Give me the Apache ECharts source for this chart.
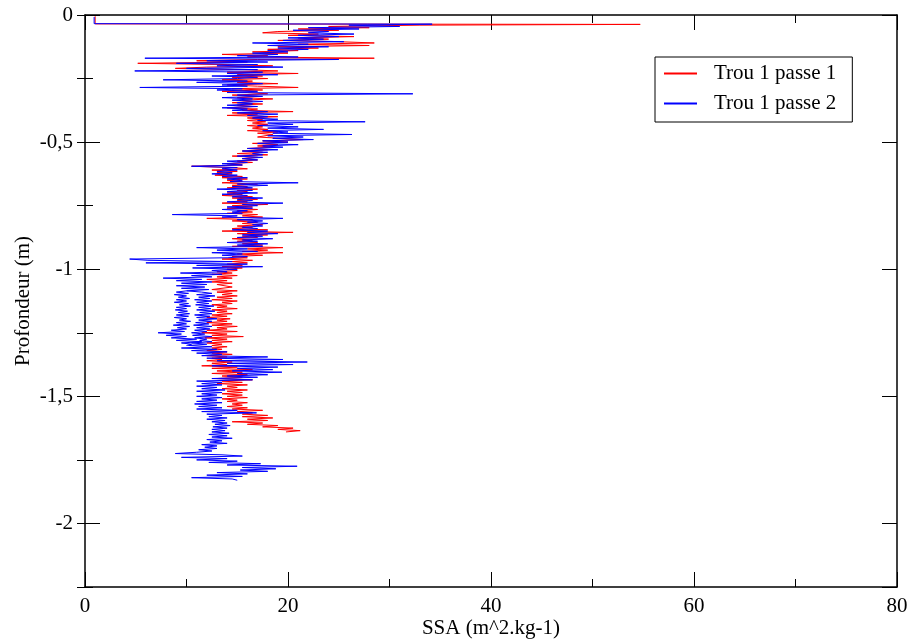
<!DOCTYPE html>
<html><head><meta charset="utf-8">
<script src="https://cdn.jsdelivr.net/npm/echarts@6/dist/echarts.min.js"></script>
<style>html,body{margin:0;padding:0;background:#fff}#c{width:916px;height:642px}</style>
</head><body><div id="c"></div>
<script>
const seriesNames = ['Trou 1 passe 1', 'Trou 1 passe 2'];
const xName = 'SSA (m^2.kg-1)';
const yName = 'Profondeur (m)';

// [SSA, profondeur]
const passe1 = [
[1,-0.005],[1,-0.035],[54.7,-0.037],[33,-0.040],[24,-0.045],[28,-0.050],[21,-0.055],[25,-0.060],[19,-0.065],[17.5,-0.070],
[23,-0.075],[20,-0.080],[26.5,-0.085],[21,-0.090],[24,-0.095],[19,-0.100],[25,-0.105],[28.5,-0.110],[21,-0.115],[28,-0.120],
[19,-0.125],[23,-0.130],[18,-0.135],[21,-0.140],[16.5,-0.145],[20,-0.150],[13.5,-0.155],[18,-0.160],[16,-0.165],[28.5,-0.170],
[17,-0.175],[11,-0.180],[16,-0.185],[5.2,-0.190],[14,-0.195],[18.5,-0.200],[12,-0.205],[8.9,-0.210],[15.5,-0.215],[19,-0.220],
[14,-0.225],[21,-0.230],[15,-0.235],[17.5,-0.240],[14.5,-0.245],[18,-0.250],[13.5,-0.255],[16.5,-0.260],[15,-0.265],[19,-0.270],
[14,-0.275],[17,-0.280],[21,-0.285],[14.5,-0.290],[17.5,-0.295],[13.5,-0.300],[16,-0.305],[18,-0.310],[14.5,-0.315],[17,-0.320],
[15,-0.325],[18.5,-0.330],[15.5,-0.335],[16.5,-0.340],[14.5,-0.345],[17.5,-0.350],[15,-0.355],[16.5,-0.360],[14,-0.365],[17,-0.370],
[15.5,-0.375],[20.5,-0.380],[14.5,-0.385],[17,-0.390],[14,-0.395],[19,-0.400],[16,-0.405],[17.5,-0.410],[16,-0.415],[17.8,-0.420],
[16.5,-0.425],[18,-0.430],[16,-0.435],[17.5,-0.440],[16.5,-0.445],[18,-0.450],[16,-0.455],[19,-0.460],[17,-0.465],[18.5,-0.470],
[17,-0.480],[21.5,-0.490],[17.5,-0.495],[20,-0.500],[16.5,-0.505],[19,-0.510],[17,-0.515],[18.5,-0.520],[16,-0.525],[18,-0.530],
[15.5,-0.535],[17.5,-0.540],[15,-0.545],[18,-0.550],[14.5,-0.555],[17,-0.560],[15.5,-0.565],[17,-0.570],[15,-0.575],[16.5,-0.580],
[14,-0.585],[15.5,-0.590],[10.5,-0.595],[14.5,-0.600],[16,-0.605],[12.5,-0.610],[15,-0.615],[13,-0.620],[14.5,-0.625],[12.8,-0.630],
[15.5,-0.635],[13.5,-0.640],[16,-0.645],[14,-0.650],[15.5,-0.655],[13.5,-0.660],[17,-0.665],[14.5,-0.670],[16,-0.675],[14,-0.680],
[17,-0.685],[15,-0.690],[16,-0.695],[14,-0.700],[15.5,-0.705],[13.5,-0.710],[16.5,-0.715],[14.5,-0.720],[17,-0.725],[15,-0.730],
[16,-0.735],[13.5,-0.740],[18,-0.745],[14.5,-0.750],[16.5,-0.755],[14,-0.760],[17,-0.765],[15,-0.770],[16.5,-0.775],[14,-0.780],
[17,-0.785],[15.5,-0.790],[17.5,-0.795],[12,-0.800],[16.5,-0.805],[14.5,-0.810],[17,-0.815],[15.5,-0.820],[17.5,-0.825],[15,-0.830],
[16.5,-0.835],[14.5,-0.840],[18,-0.845],[13.5,-0.850],[20.5,-0.855],[15,-0.860],[18,-0.865],[15.5,-0.870],[17,-0.875],[14.5,-0.880],
[16.5,-0.885],[15,-0.890],[17,-0.895],[15.5,-0.900],[17.5,-0.905],[14.5,-0.910],[19.5,-0.915],[16,-0.920],[18,-0.925],[15.5,-0.930],
[19.5,-0.935],[15,-0.940],[17.5,-0.945],[14.5,-0.950],[16,-0.955],[13.5,-0.960],[16.5,-0.965],[14.5,-0.970],[16,-0.975],[14,-0.980],
[15.5,-0.985],[13.5,-0.990],[15.5,-0.995],[14,-1.000],[15,-1.005],[13,-1.010],[14.5,-1.015],[12.5,-1.020],[15,-1.025],[13,-1.030],
[14.5,-1.035],[12,-1.040],[14,-1.045],[12.5,-1.050],[14.5,-1.055],[13,-1.060],[14.5,-1.070],[12.5,-1.080],[15,-1.085],[13,-1.090],
[14.5,-1.095],[13.5,-1.100],[15,-1.105],[13,-1.110],[14.5,-1.115],[12.5,-1.120],[15,-1.125],[13.5,-1.130],[14.5,-1.135],[12.5,-1.140],
[14,-1.145],[13,-1.150],[15,-1.155],[12.5,-1.160],[14,-1.165],[13,-1.170],[14.5,-1.175],[12.5,-1.180],[14,-1.185],[12,-1.190],
[14.3,-1.195],[13,-1.200],[14,-1.205],[12,-1.210],[14.5,-1.215],[12.5,-1.220],[15,-1.225],[13,-1.230],[14,-1.235],[12,-1.240],
[15,-1.245],[11.5,-1.250],[14,-1.255],[12.5,-1.260],[15.6,-1.265],[11.8,-1.270],[14,-1.275],[12.5,-1.280],[14.5,-1.285],[12,-1.290],
[13.5,-1.295],[12.5,-1.300],[14,-1.305],[12.5,-1.310],[13.5,-1.315],[12,-1.320],[14,-1.325],[12.5,-1.330],[14.5,-1.335],[12,-1.340],
[14,-1.345],[12.5,-1.350],[13.5,-1.355],[12,-1.360],[14.5,-1.365],[12.5,-1.370],[14,-1.375],[11.5,-1.380],[15,-1.385],[12.5,-1.390],
[16.5,-1.395],[13,-1.400],[15.5,-1.405],[12.5,-1.410],[16,-1.415],[13.5,-1.420],[15.5,-1.425],[13,-1.430],[16.5,-1.435],[13.5,-1.440],
[15.5,-1.445],[13,-1.450],[16,-1.455],[14,-1.460],[15,-1.465],[13.5,-1.470],[16,-1.475],[14,-1.480],[15.5,-1.485],[13.5,-1.490],
[15.5,-1.495],[14,-1.500],[16,-1.505],[13.5,-1.510],[15,-1.515],[14,-1.520],[16,-1.525],[14.5,-1.530],[15.5,-1.535],[14,-1.540],
[16,-1.545],[14.5,-1.550],[17.5,-1.555],[15,-1.560],[16.5,-1.565],[15.5,-1.570],[18,-1.575],[15.5,-1.580],[18.5,-1.585],[16,-1.590],
[18,-1.595],[14.5,-1.600],[17.5,-1.605],[16,-1.610],[19,-1.615],[17.5,-1.620],[20.5,-1.625],[19,-1.630],[21.2,-1.635],[19.8,-1.640]
];

const passe2 = [
[0.9,-0.008],[0.9,-0.034],[34.2,-0.036],[26,-0.040],[31,-0.045],[22,-0.050],[27,-0.055],[20.5,-0.060],[24,-0.065],[22,-0.070],
[26.5,-0.075],[21,-0.080],[25,-0.085],[20,-0.090],[23.5,-0.095],[19.5,-0.100],[25.5,-0.105],[16.5,-0.110],[22,-0.115],[18,-0.120],
[24,-0.125],[19,-0.130],[22,-0.135],[18,-0.140],[20,-0.145],[16.5,-0.150],[19,-0.155],[15,-0.160],[21,-0.165],[5.9,-0.170],
[25,-0.175],[12,-0.180],[18,-0.185],[9,-0.190],[17,-0.195],[13,-0.200],[19.5,-0.205],[10,-0.210],[17,-0.215],[4.9,-0.220],
[17.5,-0.225],[14,-0.230],[19,-0.235],[12.5,-0.240],[17,-0.245],[15,-0.250],[7.7,-0.255],[16,-0.260],[11,-0.265],[17.5,-0.270],
[13.5,-0.275],[16,-0.280],[5.4,-0.285],[15.5,-0.290],[13,-0.295],[17,-0.300],[14,-0.305],[32.3,-0.310],[15,-0.315],[17.5,-0.320],
[13.5,-0.325],[16.5,-0.330],[14.5,-0.335],[17.5,-0.340],[15,-0.345],[16.5,-0.350],[14,-0.355],[17,-0.360],[13.5,-0.365],[16,-0.370],
[14.5,-0.375],[18,-0.380],[15,-0.385],[19,-0.390],[16,-0.395],[18,-0.400],[16.5,-0.405],[19,-0.410],[17,-0.415],[27.6,-0.420],
[18,-0.425],[20.5,-0.430],[17,-0.435],[21,-0.440],[18,-0.445],[23.5,-0.450],[17.5,-0.455],[20,-0.460],[18.5,-0.465],[26.3,-0.470],
[18,-0.475],[21.5,-0.480],[18.5,-0.485],[22.5,-0.490],[17.5,-0.495],[20,-0.500],[17,-0.505],[21,-0.510],[17.5,-0.515],[19.5,-0.520],
[16,-0.525],[19,-0.530],[15.5,-0.535],[18,-0.540],[16.5,-0.545],[17.5,-0.550],[15,-0.555],[17.5,-0.560],[15.5,-0.565],[17,-0.570],
[14,-0.575],[16,-0.580],[13.5,-0.585],[15.5,-0.590],[10.5,-0.595],[15,-0.600],[13.5,-0.605],[15,-0.610],[13,-0.615],[14.5,-0.620],
[12.5,-0.625],[15,-0.630],[13.5,-0.635],[16,-0.640],[14,-0.645],[15.5,-0.650],[14.3,-0.655],[21,-0.660],[15,-0.665],[18,-0.670],
[14.5,-0.675],[16.5,-0.680],[13,-0.685],[16.5,-0.690],[14,-0.695],[17,-0.700],[13.5,-0.705],[16,-0.710],[14.5,-0.715],[17.5,-0.720],
[15,-0.725],[16.5,-0.730],[14,-0.735],[19.5,-0.740],[15.5,-0.745],[17,-0.750],[14,-0.755],[16.5,-0.760],[13.5,-0.765],[16,-0.770],
[14.5,-0.775],[15.5,-0.780],[8.6,-0.785],[15,-0.790],[13.5,-0.795],[19.5,-0.800],[15,-0.805],[17.5,-0.810],[16,-0.815],[18,-0.820],
[16.5,-0.825],[17.5,-0.830],[15.5,-0.835],[17,-0.840],[14.5,-0.845],[18,-0.850],[16,-0.855],[19,-0.860],[15.5,-0.865],[17.5,-0.870],
[15,-0.875],[18.5,-0.880],[15.5,-0.885],[17,-0.890],[14,-0.895],[18,-0.900],[15,-0.905],[17.5,-0.910],[11,-0.915],[16,-0.920],
[13,-0.925],[17,-0.930],[12.5,-0.935],[15.5,-0.940],[13.5,-0.945],[16,-0.950],[14,-0.955],[4.4,-0.960],[6.2,-0.965],[14.5,-0.970],
[6,-0.975],[16,-0.980],[11,-0.985],[17.5,-0.990],[10.6,-0.995],[15,-1.000],[12.5,-1.005],[14,-1.010],[9.4,-1.015],[13.5,-1.020],
[10.5,-1.025],[12.5,-1.030],[7.7,-1.035],[11.5,-1.040],[9,-1.045],[12.5,-1.050],[9.5,-1.055],[12,-1.060],[9,-1.065],[11.8,-1.070],
[9.5,-1.075],[12.2,-1.080],[10,-1.085],[11.5,-1.090],[12.5,-1.095],[11,-1.100],[12.8,-1.105],[11.2,-1.110],[12.3,-1.115],[10.8,-1.120],
[12.5,-1.125],[11,-1.130],[12.2,-1.135],[10.9,-1.140],[12.7,-1.145],[11.2,-1.150],[12.4,-1.155],[11,-1.160],[12.8,-1.165],[11.3,-1.170],
[12.5,-1.175],[10.8,-1.180],[12.3,-1.185],[11,-1.190],[13,-1.195],[11.2,-1.200],[12.5,-1.205],[10.9,-1.210],[12.2,-1.215],[10.7,-1.220],
[12.5,-1.225],[11,-1.230],[12.3,-1.235],[10.8,-1.240],[12,-1.245],[10.5,-1.250],[11.8,-1.255],[10.6,-1.260],[12.5,-1.265],[10.8,-1.270],
[12,-1.275],[11.3,-1.280],[12.5,-1.285],[10.5,-1.290],[12,-1.295],[10.2,-1.300],[12.5,-1.305],[9.5,-1.310],[13,-1.315],[10.5,-1.320],
[14,-1.325],[11,-1.330],[13.5,-1.335],[11.5,-1.340],[18,-1.345],[12,-1.350],[19.5,-1.355],[13,-1.360],[21.9,-1.365],[14,-1.370],
[20.5,-1.375],[12.5,-1.380],[19,-1.385],[15,-1.390],[18.5,-1.395],[14.5,-1.400],[19.4,-1.405],[15,-1.410],[18,-1.415],[14,-1.420],
[17,-1.425],[12.5,-1.430],[16.5,-1.435],[11,-1.440],[13.5,-1.445],[11.5,-1.450],[13.5,-1.455],[11,-1.460],[13,-1.465],[11.5,-1.470],
[13.8,-1.475],[11,-1.480],[13.5,-1.485],[11.5,-1.490],[13,-1.495],[11,-1.500],[13.5,-1.505],[11.5,-1.510],[13,-1.515],[11,-1.520],
[13.5,-1.525],[10.8,-1.530],[13,-1.535],[11.2,-1.540],[13.5,-1.545],[11,-1.550],[15,-1.555],[11.5,-1.560],[16.9,-1.565],[12,-1.570],
[13.5,-1.575],[12.2,-1.580],[14,-1.585],[12,-1.590],[13.8,-1.595],[12.5,-1.600],[14,-1.605],[12.8,-1.610],[14.3,-1.615],[12.6,-1.620],
[14,-1.625],[12.5,-1.630],[13.8,-1.635],[12.5,-1.640],[14.2,-1.645],[12.2,-1.650],[14,-1.655],[12.5,-1.660],[14.5,-1.665],[12,-1.670],
[13.5,-1.675],[12.3,-1.680],[14,-1.685],[11.5,-1.690],[13,-1.695],[11.8,-1.700],[13,-1.705],[11.2,-1.710],[12.5,-1.715],[11,-1.720],
[8.9,-1.725],[13.5,-1.730],[15.5,-1.735],[9.5,-1.740],[14,-1.745],[11,-1.750],[15,-1.755],[12.2,-1.760],[17.3,-1.765],[14,-1.770],
[20.9,-1.775],[15.5,-1.780],[18.8,-1.785],[15.3,-1.790],[18,-1.795],[13,-1.800],[16,-1.805],[12,-1.810],[15.5,-1.815],[10.5,-1.820],
[14.5,-1.825],[15,-1.830]
];

// second trace of passe 2 between -1.08 and -1.30 m
const passe2b = [
[10,-1.085],[9,-1.090],[10.2,-1.095],[8.8,-1.100],[10,-1.105],[9.2,-1.110],[10.3,-1.115],[9,-1.120],[10,-1.125],[8.8,-1.130],
[10.2,-1.135],[9.3,-1.140],[10.4,-1.145],[9,-1.150],[10,-1.155],[8.9,-1.160],[10.1,-1.165],[9.2,-1.170],[10.3,-1.175],[9,-1.180],
[10.2,-1.185],[8.8,-1.190],[10,-1.195],[9.3,-1.200],[10.4,-1.205],[9,-1.210],[10,-1.215],[8.7,-1.220],[10.3,-1.225],[9.1,-1.230],
[10,-1.235],[8.5,-1.240],[9.8,-1.245],[7.2,-1.250],[9.5,-1.255],[8,-1.260],[10,-1.265],[8.5,-1.270],[11,-1.275],[9,-1.280],
[11.5,-1.285],[9.5,-1.290],[10.5,-1.295],[10,-1.300]
];

const FONT = '"Liberation Serif","DejaVu Serif",serif';
const RED = '#ff0000', BLUE = '#0000ff';
const seriesColors = [RED, BLUE];

const chart = echarts.init(document.getElementById('c'), null, {renderer: 'canvas'});

const frameLine = {show: true, onZero: false, lineStyle: {color: '#000', width: 1.5}};
const majorTick = {show: true, inside: true, length: 15, lineStyle: {color: '#000', width: 1}};
const minorTickOn = {show: true, splitNumber: 2, length: 8, lineStyle: {color: '#000', width: 1}};

const option = {
  animation: false,
  backgroundColor: '#fff',
  color: seriesColors,
  grid: {left: 85, right: 19, top: 15, bottom: 55, containLabel: false, outerBoundsMode: 'none'},
  legend: {
    orient: 'vertical', left: 655, top: 57,
    data: seriesNames,
    backgroundColor: '#fff', borderColor: '#000', borderWidth: 1,
    padding: [6, 16, 8, 8], itemGap: 9, itemWidth: 33, itemHeight: 14,
    itemStyle: {opacity: 0},
    textStyle: {fontFamily: FONT, fontSize: 21, color: '#000', padding: [0, 0, 0, 12]}
  },
  xAxis: [
    {type: 'value', position: 'bottom', min: 0, max: 80, interval: 20,
     axisLine: frameLine, axisTick: majorTick, minorTick: minorTickOn, splitLine: {show: false}, minorSplitLine: {show: false},
     axisLabel: {margin: 9, fontFamily: FONT, fontSize: 21, color: '#000'},
     name: xName, nameLocation: 'middle', nameGap: 31, nameMoveOverlap: false,
     nameTextStyle: {fontFamily: FONT, fontSize: 21, color: '#000'}},
    {type: 'value', position: 'top', min: 0, max: 80, interval: 20,
     axisLine: frameLine, axisTick: majorTick, minorTick: minorTickOn, splitLine: {show: false},
     axisLabel: {show: false}}
  ],
  yAxis: [
    {type: 'value', position: 'left', min: -2.25, max: 0, splitNumber: 5, minInterval: 0.5, maxInterval: 0.5,
     axisLine: frameLine, axisTick: majorTick, splitLine: {show: false},
     axisLabel: {margin: 12, showMinLabel: false, fontFamily: FONT, fontSize: 21, color: '#000',
       formatter: v => (Math.abs(v + 2.25) < 1e-9 ? '' : String(v).replace('.', ','))},
     name: yName, nameLocation: 'middle', nameGap: 51, nameRotate: 90, nameMoveOverlap: false,
     nameTextStyle: {fontFamily: FONT, fontSize: 21, color: '#000'}},
    {type: 'value', position: 'right', min: -2.25, max: 0, splitNumber: 5, minInterval: 0.5, maxInterval: 0.5,
     axisLine: frameLine, axisTick: majorTick, splitLine: {show: false}, axisLabel: {show: false}},
    {type: 'value', position: 'left', min: -2.25, max: 0, interval: 0.25,
     axisLine: {show: false}, axisTick: {show: true, inside: true, length: 8, lineStyle: {color: '#000'}},
     splitLine: {show: false}, axisLabel: {show: false}},
    {type: 'value', position: 'right', min: -2.25, max: 0, interval: 0.25,
     axisLine: {show: false}, axisTick: {show: true, inside: true, length: 8, lineStyle: {color: '#000'}},
     splitLine: {show: false}, axisLabel: {show: false}}
  ],
  series: [
    {name: seriesNames[0], type: 'line', data: passe1, xAxisIndex: 0, yAxisIndex: 0, color: RED,
     symbol: 'none', showSymbol: false, itemStyle: {color: RED}, lineStyle: {color: RED, width: 1}},
    {name: seriesNames[1], type: 'line', data: passe2, xAxisIndex: 0, yAxisIndex: 0, color: BLUE,
     symbol: 'none', showSymbol: false, itemStyle: {color: BLUE}, lineStyle: {color: BLUE, width: 1}},
    {name: seriesNames[1], type: 'line', data: passe2b, xAxisIndex: 0, yAxisIndex: 0, color: BLUE,
     symbol: 'none', showSymbol: false, itemStyle: {color: BLUE}, lineStyle: {color: BLUE, width: 1}}
  ]
};
chart.setOption(option);
</script>
</body></html>
